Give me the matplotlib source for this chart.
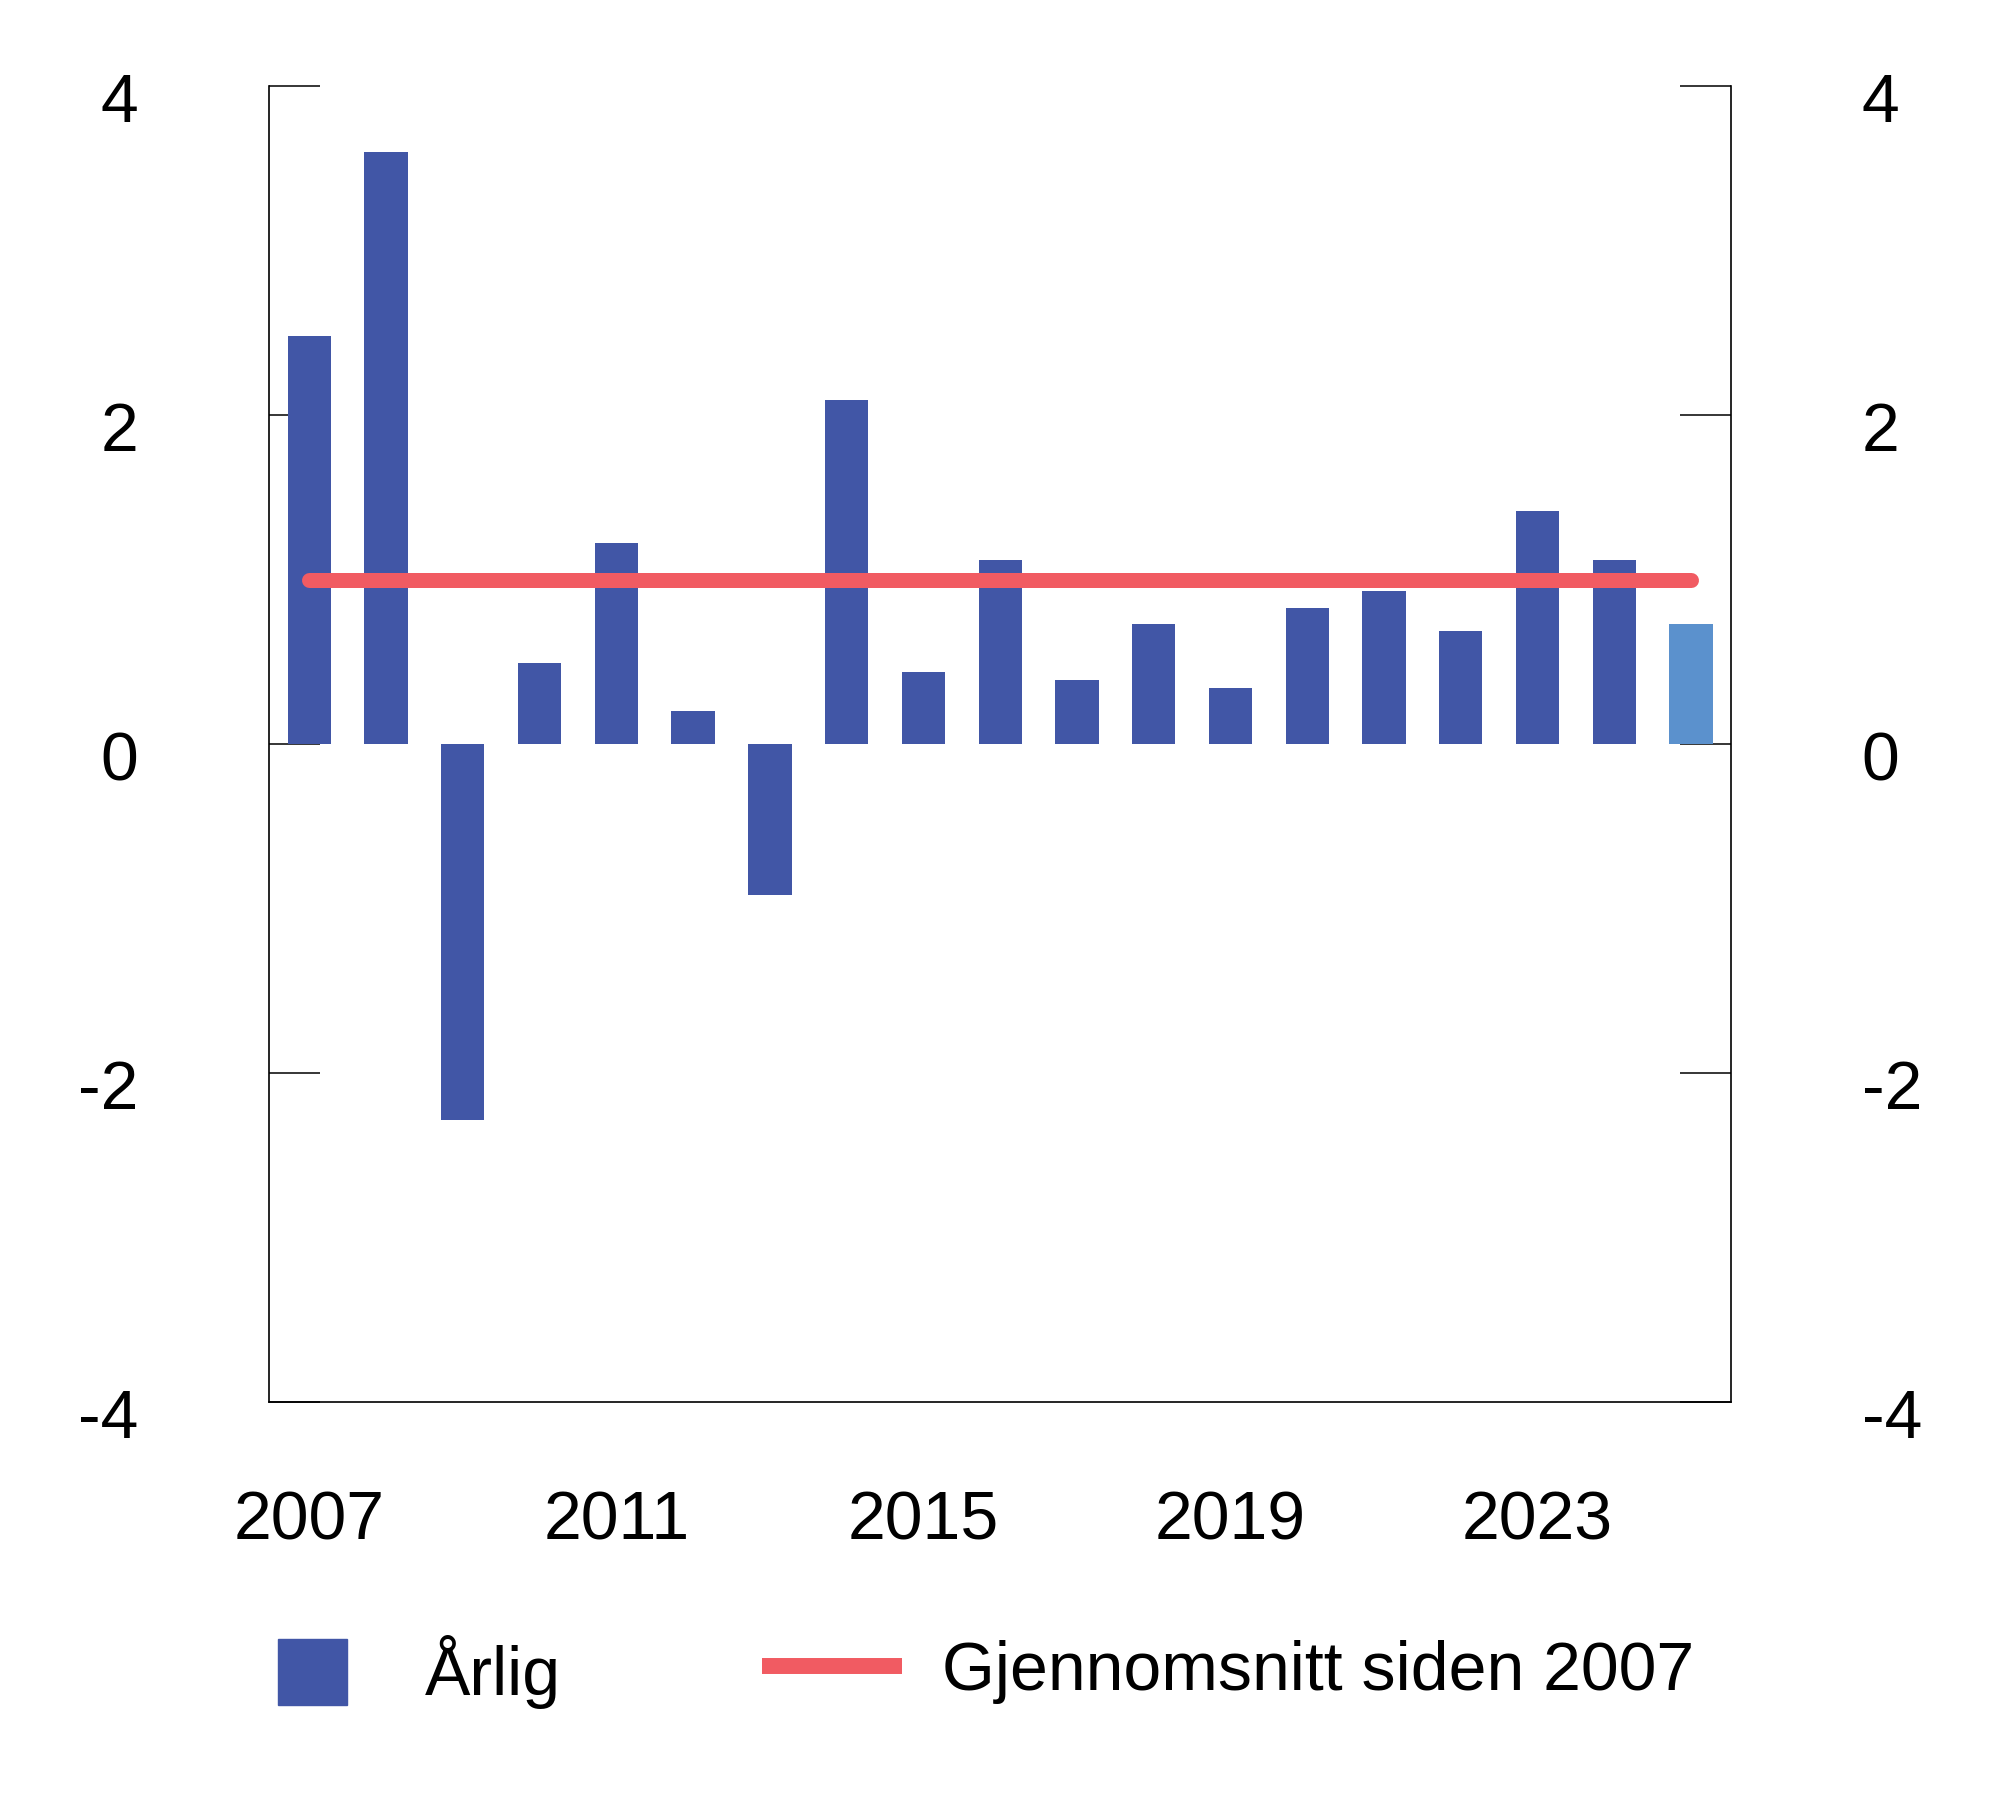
import matplotlib
matplotlib.use('Agg')
import matplotlib.pyplot as plt
import matplotlib.transforms as mtransforms
from matplotlib.patches import Patch
from matplotlib.lines import Line2D

# data
years = list(range(2007, 2026))
values = [2.48, 3.60, -2.29, 0.49, 1.22, 0.20, -0.92, 2.09, 0.44, 1.12,
          0.39, 0.73, 0.34, 0.83, 0.93, 0.69, 1.42, 1.12, 0.73]
average = 1.0
xtick_years = [2007, 2011, 2015, 2019, 2023]
yticks = [-4, -2, 0, 2, 4]
bar_label = 'Årlig'
line_label = 'Gjennomsnitt siden 2007'

bar_color = '#4156A6'
last_color = '#5B91CD'
line_color = '#F15B62'

plt.rcParams['font.family'] = ['Liberation Sans', 'DejaVu Sans']
plt.rcParams['axes.unicode_minus'] = False

fs = 49
fig = plt.figure(figsize=(20, 18.16), dpi=100)
ax = fig.add_axes([0.1343, 0.2282, 0.7312, 0.7242])

colors = [bar_color] * (len(years) - 1) + [last_color]
ax.bar(years, values, width=0.564, color=colors, zorder=2)
ax.plot([years[0], years[-1]], [average, average], color=line_color,
        lw=10.8, solid_capstyle='round', zorder=3)

ax.set_xlim(2006.47, 2025.52)
ax.set_ylim(-4, 4)
ax.set_axisbelow(True)
for side in ['left', 'right', 'bottom']:
    ax.spines[side].set_linewidth(1.2)
    ax.spines[side].set_color('black')
ax.spines['top'].set_visible(False)

ax.set_yticks(yticks)
ax.set_yticklabels([str(v) for v in yticks])
ax.tick_params(axis='y', direction='in', length=37, width=1.1,
               left=True, right=True, labelleft=True, labelright=True,
               labelsize=fs, pad=94)
ax.set_xticks(xtick_years)
ax.set_xticklabels([str(y) for y in xtick_years])
ax.tick_params(axis='x', length=0, labelsize=fs, pad=63)

# nudge y labels down a little
dy = -11 / 100
for tick in ax.yaxis.get_major_ticks():
    tick.label1.set_transform(tick.label1.get_transform() +
                              mtransforms.ScaledTranslation(0, dy, fig.dpi_scale_trans))
    tick.label2.set_transform(tick.label2.get_transform() +
                              mtransforms.ScaledTranslation(0, dy, fig.dpi_scale_trans))

em = fs * 100 / 72
leg_y = 1 - 1672 / 1816
fig.legend(handles=[Patch(color=bar_color, label=bar_label)],
           loc='center left', bbox_to_anchor=(278 / 2000, leg_y),
           frameon=False, fontsize=fs, handlelength=69 / em, handleheight=1.1,
           handletextpad=78 / em, borderpad=0, borderaxespad=0)
fig.legend(handles=[Line2D([], [], color=line_color, lw=11.5,
                           solid_capstyle='butt', label=line_label)],
           loc='center left', bbox_to_anchor=(762 / 2000, leg_y),
           frameon=False, fontsize=fs, handlelength=140 / em,
           handletextpad=40 / em, borderpad=0, borderaxespad=0)

fig.savefig('out.png', dpi=100)
